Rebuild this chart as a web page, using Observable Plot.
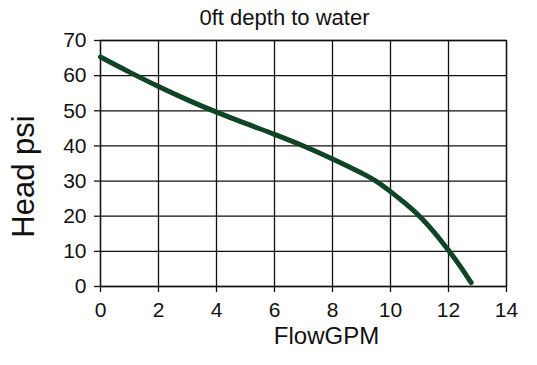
<!DOCTYPE html>
<html>
<head>
<meta charset="utf-8">
<script src="https://cdn.jsdelivr.net/npm/d3@7"></script>
<script src="https://cdn.jsdelivr.net/npm/@observablehq/plot@0.6"></script>
<style>
  html, body { margin: 0; padding: 0; background: #fff; }
  svg { display: block; }
</style>
</head>
<body>
<div id="chart"></div>
<script>
const flow = [0, 1, 2, 3, 4, 5, 6, 7, 8, 9, 9.5, 10, 10.5, 11, 11.5, 12, 12.4, 12.78];
const head = [65.3, 61.0, 56.9, 53.1, 49.6, 46.4, 43.3, 40.0, 36.3, 32.3, 30.0, 27.0, 23.7, 20.0, 15.5, 10.3, 5.8, 1.1];
const xTicks = [0, 2, 4, 6, 8, 10, 12, 14];
const yTicks = [0, 10, 20, 30, 40, 50, 60, 70];
const title = "0ft depth to water";
const xLabel = "FlowGPM";
const yLabel = "Head psi";

const data = flow.map((f, i) => ({flow: f, head: head[i]}));
const font = "'Liberation Sans', Arial, Helvetica, sans-serif";

const chart = Plot.plot({
  width: 537,
  height: 365,
  marginLeft: 100,
  marginRight: 31,
  marginTop: 40,
  marginBottom: 79,
  style: {fontFamily: font, background: "#fff", color: "#111"},
  x: {domain: [0, 14], ticks: xTicks, label: null},
  y: {domain: [0, 70], ticks: yTicks, label: null},
  marks: [
    Plot.gridX(xTicks, {stroke: "#111", strokeOpacity: 1, strokeWidth: 1.3}),
    Plot.gridY(yTicks, {stroke: "#111", strokeOpacity: 1, strokeWidth: 1.3}),
    Plot.frame({stroke: "#111", strokeWidth: 1.3}),
    Plot.axisX(xTicks, {tickSize: 6, tickPadding: 10, fontSize: 21, strokeWidth: 1.3, stroke: "#111", fill: "#111", label: null}),
    Plot.axisY(yTicks, {tickSize: 6, tickPadding: 8, fontSize: 21, strokeWidth: 1.3, stroke: "#111", fill: "#111", label: null}),
    Plot.line(data, {x: "flow", y: "head", stroke: "#0f4424", strokeWidth: 5, curve: "catmull-rom", strokeLinecap: "round"}),
    Plot.text([title], {frameAnchor: "top", textAnchor: "middle", dx: -19, dy: -16, lineAnchor: "bottom", fontSize: 22, fill: "#111"}),
    Plot.text([xLabel], {frameAnchor: "bottom", textAnchor: "middle", dx: 23, dy: 57, lineAnchor: "bottom", fontSize: 24, fill: "#111"}),
    Plot.text([yLabel], {frameAnchor: "left", textAnchor: "middle", dx: -67, dy: 13, rotate: -90, lineAnchor: "bottom", fontSize: 31, fill: "#111"})
  ]
});
document.getElementById("chart").appendChild(chart);
</script>
</body>
</html>
